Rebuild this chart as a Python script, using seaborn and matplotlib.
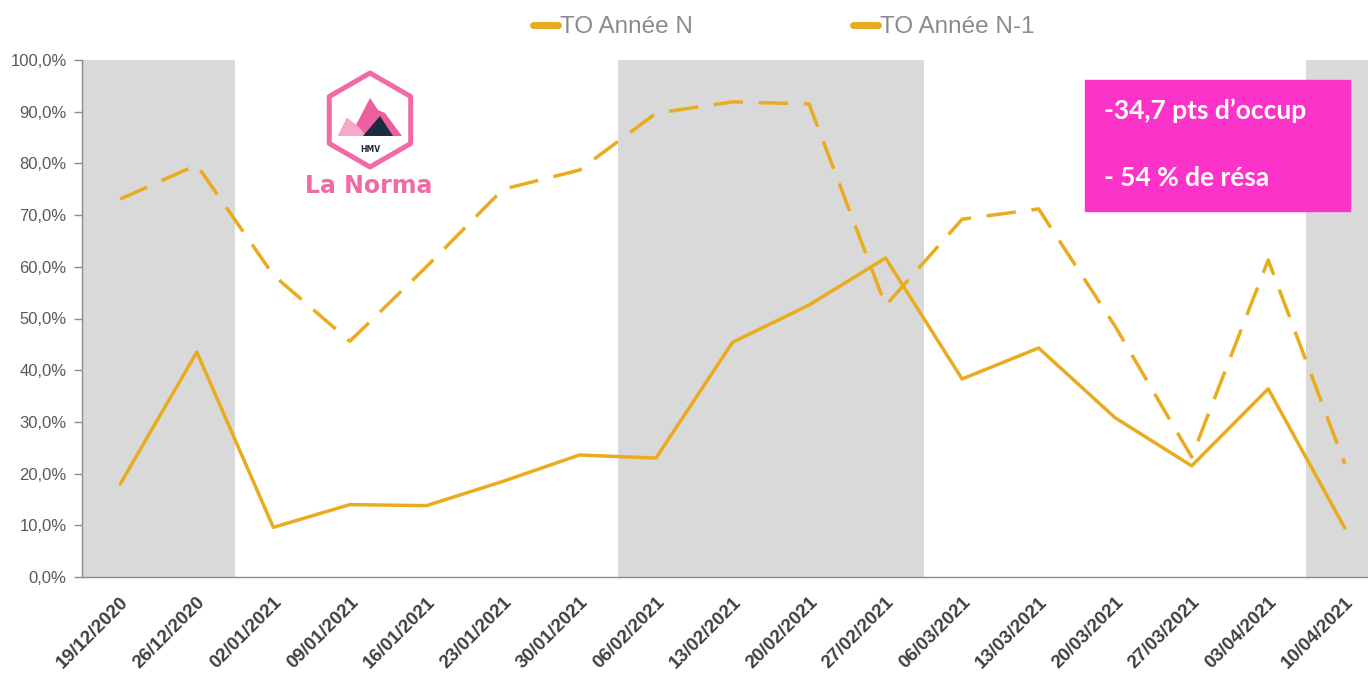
import numpy as np
import pandas as pd
import matplotlib
matplotlib.use("Agg")
import matplotlib.pyplot as plt
import seaborn as sns
from matplotlib.lines import Line2D
from matplotlib.patches import Rectangle, RegularPolygon, Polygon

# ---------------- data ----------------
semaines = ["19/12/2020", "26/12/2020", "02/01/2021", "09/01/2021", "16/01/2021",
            "23/01/2021", "30/01/2021", "06/02/2021", "13/02/2021", "20/02/2021",
            "27/02/2021", "06/03/2021", "13/03/2021", "20/03/2021", "27/03/2021",
            "03/04/2021", "10/04/2021"]
to_annee_n = [18.0, 43.5, 9.6, 14.0, 13.8, 18.5, 23.6, 23.0, 45.4, 52.6,
              61.7, 38.3, 44.3, 30.8, 21.5, 36.4, 9.5]
to_annee_n1 = [73.1, 79.7, 58.4, 45.6, 60.0, 75.0, 78.7, 89.7, 91.9, 91.5,
               52.5, 69.2, 71.2, 48.5, 23.2, 61.3, 21.9]
series_names = ["TO Année N", "TO Année N-1"]
y_ticks = [0, 10, 20, 30, 40, 50, 60, 70, 80, 90, 100]
# shaded holiday periods (first / last week index)
vacances = [(0, 1), (7, 10), (16, 16)]

pos = np.arange(len(semaines))
df = pd.DataFrame({
    "pos": np.concatenate([pos, pos]),
    "TO": to_annee_n + to_annee_n1,
    "serie": [series_names[0]] * len(pos) + [series_names[1]] * len(pos),
})

# ---------------- figure ----------------
sns.set_theme(style="white")
plt.rcParams["font.family"] = ["Liberation Sans", "DejaVu Sans"]
W, H = 1368, 681
fig = plt.figure(figsize=(W / 100, H / 100), dpi=100)
ax = fig.add_axes([82 / W, 1 - 577 / H, (W - 82) / W, (577 - 60) / H])

line_col = "#E9AC1E"
for a, b in vacances:
    ax.axvspan(a - 0.5, b + 0.5, color="#D9D9D9", lw=0, zorder=0)

sns.lineplot(data=df, x="pos", y="TO", hue="serie", style="serie",
             palette={series_names[0]: line_col, series_names[1]: line_col},
             dashes={series_names[0]: "", series_names[1]: (8.5, 4.5)},
             linewidth=2.5, legend=False, ax=ax, zorder=3)

ax.set_xlabel("")
ax.set_ylabel("")
ax.set_yticks(y_ticks)
ax.set_yticklabels([f"{v:.1f}%".replace(".", ",") for v in y_ticks],
                   fontsize=12, color="#595959")
ax.set_xticks(pos)
ax.set_xticklabels(semaines, rotation=45, ha="right", va="top",
                   rotation_mode="anchor", fontsize=13.5, fontweight="bold",
                   color="#404040")
ax.set_xticks(np.arange(len(semaines) + 1) - 0.5, minor=True)
ax.set_xlim(-0.5, 16.5 - 15 / 76.56)
ax.set_ylim(0, 100)
ax.tick_params(axis="x", which="major", length=0, pad=12)
ax.tick_params(axis="x", which="minor", length=7, color="#8C8C8C", width=1)
ax.tick_params(axis="y", length=6, color="#8C8C8C", width=1, left=True, pad=5)
for s in ["top", "right"]:
    ax.spines[s].set_visible(False)
for s in ["left", "bottom"]:
    ax.spines[s].set_color("#8C8C8C")
    ax.spines[s].set_linewidth(1)
ax.grid(False)

# legend
handles = [Line2D([0], [0], color=line_col, lw=5, solid_capstyle="round"),
           Line2D([0], [0], color=line_col, lw=5, solid_capstyle="round")]
fig.legend(handles, series_names, loc="center", ncol=2,
           bbox_to_anchor=(0.573, 1 - 27 / H), frameon=False,
           handlelength=1.0, handletextpad=0.1, columnspacing=6.6,
           prop={"size": 17.5}, labelcolor="#8C8C8C")

# pink annotation box
fig.patches.append(Rectangle((1085 / W, 1 - 211 / H), 265 / W, 131 / H,
                             transform=fig.transFigure, color="#FC33C8", zorder=5))
fig.text(1104 / W, 1 - 111 / H, "-34,7 pts d’occup", color="white",
         fontsize=19, fontweight="bold", family=["Lato", "DejaVu Sans"],
         va="center", ha="left", zorder=6)
fig.text(1104 / W, 1 - 178 / H, "- 54 % de résa", color="white",
         fontsize=19, fontweight="bold", family=["Lato", "DejaVu Sans"],
         va="center", ha="left", zorder=6)

# logo
lax = fig.add_axes([290 / W, 1 - 205 / H, 160 / W, 145 / H])
lax.set_xlim(290, 450)
lax.set_ylim(205, 60)
lax.axis("off")
lax.add_patch(RegularPolygon((370, 120), 6, radius=47, orientation=0,
                             facecolor="white", edgecolor="#F06AA6", lw=3.6,
                             joinstyle="round"))
lax.add_patch(Polygon([(338, 136), (347, 118), (356, 125), (370, 98), (378, 110),
                       (385, 113), (402, 136)], closed=True, color="#EE5FA0", lw=0))
lax.add_patch(Polygon([(338, 136), (347, 118), (360, 128), (366, 136)],
                      closed=True, color="#F7A8CB", lw=0))
lax.add_patch(Polygon([(363, 136), (380, 116), (393, 136)], closed=True,
                      color="#1B2B40", lw=0))
lax.text(370, 150, "HMV", ha="center", va="center", fontsize=5.5,
         fontweight="bold", color="#1B2B40", family="DejaVu Sans")
lax.text(369, 186, "La Norma", ha="center", va="center", fontsize=17,
         fontweight="bold", color="#F06AA6", family="DejaVu Sans")

fig.savefig("out.png", dpi=100)
